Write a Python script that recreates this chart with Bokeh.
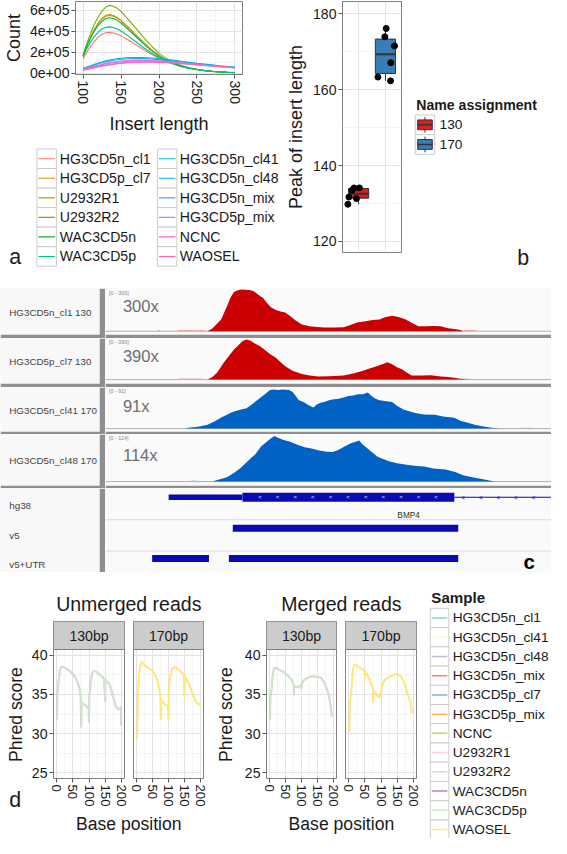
import numpy as np
from math import pi
from bokeh.plotting import figure
from bokeh.layouts import row, column
from bokeh.models import Range1d, FixedTicker, Spacer, Span
from bokeh.core.properties import value
from bokeh.embed import file_html
from bokeh.resources import INLINE

FONT = "Liberation Sans"
SX = 551 / 567
SY = 838 / 854
def X(v): return int(round(v * SX))
def Y(v): return int(round(v * SY))
def fx(v): return v * SX
def fy(v): return v * SY
def FS(px): return f"{px * 0.975:.1f}px"
TXT = "#1a1a1a"

# ======================= DATA =======================
# --- panel a: insert length distributions (counts in thousands)
insert_len = [100, 105, 110, 115, 120, 125, 130, 135, 140, 145, 150, 160, 170, 180, 190,
              200, 210, 220, 230, 240, 250, 260, 270, 280, 290, 300]
cnt_HG3CD5n_cl1 = [135, 200, 258, 305, 345, 372, 386, 390, 385, 373, 357, 315, 270, 224, 181, 143, 110, 84, 63, 47, 35, 26, 19, 14, 10, 8]
cnt_HG3CD5p_cl7 = [160, 260, 345, 420, 480, 525, 553, 560, 552, 532, 505, 438, 365, 292, 226, 170, 127, 94, 69, 50, 36, 26, 19, 13, 9, 6]
cnt_U2932R1 = [165, 262, 345, 418, 475, 518, 545, 552, 545, 526, 500, 433, 360, 288, 223, 168, 125, 92, 68, 49, 35, 25, 18, 13, 9, 6]
cnt_U2932R2 = [175, 285, 385, 470, 540, 595, 632, 648, 640, 620, 590, 510, 425, 340, 262, 190, 140, 102, 74, 53, 38, 27, 19, 13, 9, 6]
cnt_WAC3CD5n = [170, 262, 340, 405, 458, 497, 522, 530, 523, 505, 480, 415, 346, 278, 216, 163, 122, 90, 66, 48, 35, 25, 18, 13, 9, 6]
cnt_WAC3CD5p = [160, 235, 300, 352, 393, 422, 438, 443, 437, 423, 403, 352, 298, 243, 193, 150, 114, 85, 63, 46, 34, 25, 18, 13, 9, 7]
cnt_HG3CD5n_cl41 = [48, 60, 72, 85, 97, 108, 118, 126, 133, 139, 143, 149, 151, 150, 146, 140, 132, 123, 114, 105, 96, 88, 80, 72, 65, 58]
cnt_HG3CD5n_cl48 = [44, 56, 68, 80, 91, 101, 110, 118, 124, 129, 133, 139, 141, 140, 136, 130, 123, 115, 107, 99, 91, 83, 76, 69, 62, 56]
cnt_HG3CD5n_mix = [33, 40, 48, 56, 64, 71, 78, 84, 89, 94, 98, 104, 108, 110, 110, 108, 104, 99, 93, 87, 81, 75, 69, 63, 57, 52]
cnt_HG3CD5p_mix = [38, 46, 55, 64, 73, 81, 88, 95, 101, 106, 110, 116, 119, 120, 119, 116, 111, 105, 98, 91, 84, 77, 70, 64, 58, 52]
cnt_NCNC = [40, 49, 59, 68, 77, 86, 94, 101, 107, 112, 116, 121, 123, 123, 121, 117, 111, 104, 97, 90, 83, 76, 69, 63, 57, 51]
cnt_WAOSEL = [28, 35, 43, 51, 59, 66, 73, 79, 85, 90, 94, 100, 104, 106, 106, 104, 101, 97, 92, 87, 81, 75, 70, 64, 59, 54]
a_samples = ["HG3CD5n_cl1", "HG3CD5p_cl7", "U2932R1", "U2932R2", "WAC3CD5n", "WAC3CD5p",
             "HG3CD5n_cl41", "HG3CD5n_cl48", "HG3CD5n_mix", "HG3CD5p_mix", "NCNC", "WAOSEL"]
a_colors = ["#F8766D", "#DE8C00", "#B79F00", "#7CAE00", "#00BA38", "#00C08B",
            "#00BFC4", "#00B4F0", "#619CFF", "#C77CFF", "#F564E3", "#FF64B0"]
a_counts = [cnt_HG3CD5n_cl1, cnt_HG3CD5p_cl7, cnt_U2932R1, cnt_U2932R2, cnt_WAC3CD5n, cnt_WAC3CD5p,
            cnt_HG3CD5n_cl41, cnt_HG3CD5n_cl48, cnt_HG3CD5n_mix, cnt_HG3CD5p_mix, cnt_NCNC, cnt_WAOSEL]
a_yticks = [0, 200000, 400000, 600000]
a_ytick_labels = ["0e+00", "2e+05", "4e+05", "6e+05"]
a_xticks = [100, 150, 200, 250, 300]

# --- panel b: peak of insert length
b_groups = ["130", "170"]
b_colors = ["#E41A1C", "#377EB8"]
peak_130 = [129.8, 131.7, 133.5, 134.1, 134.1, 131.3]
jitter_130 = [-0.40, -0.36, -0.24, -0.17, 0.03, -0.08]
peak_170 = [176.1, 173.9, 171.5, 167.1, 163.3, 162.3]
jitter_170 = [0.03, -0.02, 0.34, 0.20, -0.28, 0.19]
b_yticks = [120, 140, 160, 180]

# --- panel c: coverage tracks (position in bp from window start, coverage in reads)
window_bp = [0, 18360]
cov1_pos = [4200, 4400, 4600, 4760, 4900, 5000, 5140, 5280, 5440, 5600, 5760, 5920, 6080, 6240, 6400, 6480,
            6640, 6800, 6880, 7040, 7200, 7400, 7600, 7800, 8080, 8400, 8700, 9000, 9400, 9800, 10000, 10360,
            10700, 11000, 11280, 11500, 11800, 12100, 12360, 12600, 12880, 13200, 13500, 13800, 14100, 14360, 14600, 14760]
cov1_val = [0, 20, 55, 85, 140, 180, 240, 280, 295, 300, 298, 296, 290, 270, 248, 240,
            205, 175, 165, 150, 142, 135, 110, 80, 48, 35, 30, 27, 26, 28, 40, 63,
            72, 80, 85, 100, 111, 100, 84, 60, 36, 35, 38, 35, 22, 15, 8, 0]
cov2_pos = [4200, 4400, 4600, 4880, 5080, 5280, 5450, 5650, 5800, 5950, 6150, 6360, 6550, 6800, 7000, 7200,
            7400, 7700, 8080, 8400, 8760, 9200, 9800, 10200, 10600, 10900, 11160, 11400, 11600, 11800, 12000,
            12200, 12400, 12600, 13000, 13400, 13800, 14100, 14360, 14600, 14880]
cov2_val = [0, 25, 70, 168, 230, 289, 330, 375, 390, 380, 350, 324, 290, 245, 215, 170,
            129, 85, 55, 40, 31, 33, 39, 60, 86, 110, 129, 150, 168, 150, 120,
            101, 70, 39, 40, 43, 30, 25, 19, 8, 0]
cov3_pos = [3280, 3400, 3800, 4200, 4500, 4800, 5000, 5200, 5500, 5800, 6000, 6200, 6360, 6560, 6760, 6900,
            7100, 7300, 7560, 7700, 7800, 7960, 8150, 8350, 8560, 8700, 8850, 9000, 9200, 9400, 9560, 9800,
            10000, 10200, 10400, 10600, 10800, 10950, 11100, 11280, 11500, 11800, 12000, 12280, 12500, 12760,
            13100, 13560, 13900, 14360, 14600, 14880, 15200, 15560, 15900, 16200]
cov3_val = [0, 2, 4, 9, 17, 27, 32, 38, 43, 47, 55, 64, 71, 80, 89, 91,
            90, 91, 90, 85, 78, 66, 62, 55, 49, 56, 60, 62, 66, 68, 69, 72,
            76, 77, 80, 80, 84, 76, 70, 66, 64, 62, 53, 44, 40, 36,
            33, 32, 28, 25, 18, 14, 9, 5, 2, 0]
cov4_pos = [4400, 4600, 5000, 5300, 5560, 5800, 6000, 6160, 6400, 6640, 6800, 6960, 7100, 7300, 7600, 7900,
            8200, 8480, 8800, 9100, 9360, 9600, 9840, 10100, 10300, 10440, 10600, 10800, 10960, 11200, 11400,
            11700, 12000, 12400, 12800, 13120, 13500, 14000, 14400, 14720, 15100, 15440, 15800, 16040]
cov4_val = [0, 4, 11, 22, 34, 48, 60, 68, 88, 100, 108, 114, 110, 105, 100, 92,
            86, 83, 78, 75, 74, 80, 88, 96, 100, 103, 92, 82, 74, 62, 57,
            50, 46, 42, 39, 38, 33, 30, 24, 16, 11, 7, 3, 0]
faint1 = [(2160, 2240), (2960, 3760), (3800, 4080), (14760, 15240)]
faint2 = [(3000, 3960), (14600, 15000)]
faint3 = [(17160, 17560)]
faint4 = [(3520, 3760)]
track_names = ["HG3CD5n_cl1 130", "HG3CD5p_cl7 130", "HG3CD5n_cl41 170", "HG3CD5n_cl48 170"]
track_max = [300, 390, 91, 114]
track_depth = ["300x", "390x", "91x", "114x"]
faint_level = [9, 10, 2, 3]
# gene annotation (bp from window start)
bmp4_utr = (2600, 5640)
bmp4_cds = (5640, 14360)
bmp4_intron = (14360, 19000)
v5_blocks = [(5240, 14520)]
v5utr_blocks = [(1920, 4260), (5080, 14520)]
annot_names = ["hg38", "v5", "v5+UTR"]

# --- panel d: per-base Phred quality
unm130_pos = [1, 2, 4, 5, 8, 9, 13, 20, 30, 40, 51, 60, 66, 70, 74, 76, 77, 78, 82, 86, 92, 96, 99, 100,
              101, 103, 105, 108, 110, 113, 116, 119, 125, 132, 140, 147, 150, 151, 152, 156, 162, 168,
              173, 178, 183, 188, 193, 197, 199, 200]
unm130_q = [31.8, 35.0, 35.7, 36.5, 37.3, 38.0, 38.5, 38.5, 38.3, 38.0, 37.6, 37.0, 36.4, 35.8, 34.9, 30.8,
            34.0, 33.9, 33.8, 33.7, 33.5, 33.3, 33.2, 31.4, 35.0, 35.3, 36.6, 37.2, 37.8, 37.9, 38.0, 38.0,
            37.8, 37.6, 37.3, 37.0, 34.1, 36.9, 36.8, 36.6, 36.4, 35.8, 34.9, 34.2, 33.5, 33.2, 33.1, 33.2,
            33.5, 31.0]
unm170_pos = [1, 2, 4, 6, 7, 10, 14, 16, 22, 29, 40, 50, 58, 65, 70, 73, 75, 76, 77, 80, 85, 90, 95, 99,
              100, 101, 102, 104, 107, 110, 114, 120, 126, 134, 141, 148, 150, 151, 153, 159, 165, 172,
              178, 185, 190, 194, 197, 200]
unm170_q = [29.3, 31.0, 35.5, 36.3, 37.6, 38.4, 39.0, 39.2, 38.9, 38.6, 38.3, 38.0, 37.5, 36.8, 35.9, 35.1,
            34.5, 31.8, 34.3, 34.1, 33.9, 33.7, 33.6, 33.7, 31.8, 35.5, 36.0, 36.8, 37.6, 38.1, 38.4, 38.5,
            38.3, 38.1, 37.8, 37.6, 34.7, 37.3, 37.2, 36.8, 36.2, 35.5, 34.9, 34.2, 33.9, 33.7, 33.7, 33.9]
mer130_pos = [1, 2, 4, 6, 10, 12, 14, 20, 27, 37, 47, 57, 67, 72, 75, 76, 77, 80, 84, 88, 92, 96, 99, 100,
              101, 104, 107, 114, 122, 132, 142, 150, 157, 162, 167, 172, 177, 182, 187, 192, 195]
mer130_q = [31.8, 34.5, 35.3, 35.6, 37.6, 38.0, 38.4, 38.4, 38.2, 38.0, 37.8, 37.4, 37.0, 36.6, 36.2, 34.9,
            36.0, 36.0, 35.95, 36.0, 36.0, 36.1, 36.2, 35.7, 36.3, 36.6, 36.8, 37.0, 37.2, 37.3, 37.3, 37.25,
            37.2, 37.1, 36.8, 36.5, 35.95, 35.5, 34.7, 33.4, 32.2]
mer170_pos = [1, 2, 3, 5, 8, 11, 13, 17, 25, 32, 40, 46, 49, 50, 51, 56, 61, 66, 70, 74, 75, 76, 77, 81, 86,
              91, 95, 98, 102, 106, 111, 116, 124, 131, 139, 146, 151, 156, 161, 166, 171, 176, 181, 186,
              191, 194, 195]
mer170_q = [31.0, 30.2, 33.1, 34.5, 35.5, 37.0, 38.2, 38.8, 38.7, 38.4, 38.3, 38.2, 38.1, 37.0, 38.0, 37.6,
            37.2, 36.8, 36.3, 35.9, 35.6, 33.9, 35.5, 35.3, 35.0, 34.7, 34.7, 34.9, 35.8, 36.4, 36.8, 37.0,
            37.2, 37.4, 37.5, 37.6, 37.6, 37.5, 37.3, 37.0, 36.6, 35.9, 35.3, 34.6, 34.1, 33.3, 32.6]
d_samples = ["HG3CD5n_cl1", "HG3CD5n_cl41", "HG3CD5n_cl48", "HG3CD5n_mix", "HG3CD5p_cl7", "HG3CD5p_mix",
             "NCNC", "U2932R1", "U2932R2", "WAC3CD5n", "WAC3CD5p", "WAOSEL"]
d_colors = ["#8DD3C7", "#FFFFB3", "#BEBADA", "#FB8072", "#80B1D3", "#FDB462",
            "#B3DE69", "#FCCDE5", "#D9D9D9", "#BC80BD", "#CCEBC5", "#FFED6F"]
d_facets = ["130bp", "170bp"]
d_xticks = [0, 50, 100, 150, 200]
d_yticks = [25, 30, 35, 40]


# ======================= HELPERS =======================
def blank(w, h, xr, yr, bg="white"):
    p = figure(width=w, height=h, x_range=xr, y_range=yr, x_axis_type=None, y_axis_type=None,
               output_backend="svg", toolbar_location=None, min_border=0, frame_align=False)
    p.outline_line_color = None
    p.background_fill_color = bg
    p.border_fill_color = bg
    return p


def txt(p, x, y, s, size, color=TXT, align="left", baseline="middle", angle=0.0, style="normal"):
    p.text(x=[x], y=[y], text=[s], text_font=value(FONT), text_font_size=value(size),
           text_color=color, text_align=align, text_baseline=baseline, angle=angle,
           text_font_style=style)


def gg_fig(w, h, xr, yr, bl, br, bt, bb, xloc="below", yloc="left"):
    p = figure(width=w, height=h, x_range=xr, y_range=yr, output_backend="svg",
               toolbar_location=None, x_axis_location=xloc, y_axis_location=yloc, min_border=0,
               frame_align=False)
    p.min_border_left = bl
    p.min_border_right = br
    p.min_border_top = bt
    p.min_border_bottom = bb
    p.outline_line_color = "#7f7f7f"
    p.background_fill_color = "white"
    p.border_fill_color = "white"
    return p


def gg_grid(p, xmaj, xmin, ymaj, ymin):
    p.xgrid.ticker = FixedTicker(ticks=xmaj, minor_ticks=xmin)
    p.ygrid.ticker = FixedTicker(ticks=ymaj, minor_ticks=ymin)
    p.grid.grid_line_color = "#e3e3e3"
    p.grid.minor_grid_line_color = "#f4f4f4"


def gg_axis(ax, ticks, fs, labels=None, vertical=False):
    ax.ticker = FixedTicker(ticks=ticks)
    ax.axis_line_color = None
    ax.major_tick_line_color = "#555555"
    ax.major_tick_in = 0
    ax.major_tick_out = 4
    ax.minor_tick_line_color = None
    ax.major_label_text_font = FONT
    ax.major_label_text_font_size = fs
    ax.major_label_text_color = TXT
    ax.major_label_standoff = 2
    if labels is not None:
        ax.major_label_overrides = {t: l for t, l in zip(ticks, labels)}
    if vertical:
        ax.major_label_orientation = "vertical"


def gg_axis_label(ax, text, fs, standoff):
    ax.axis_label = text
    ax.axis_label_text_font = FONT
    ax.axis_label_text_font_size = fs
    ax.axis_label_text_font_style = "normal"
    ax.axis_label_text_color = TXT
    ax.axis_label_standoff = standoff


# ======================= ROW 1 : panels a & b =======================
R1H = Y(285)
WA = X(290)
HA1 = Y(140)
pa = gg_fig(WA, HA1, Range1d(90, 310), Range1d(-1.2e4, 6.85e5),
            bl=X(72.7), br=WA - X(249), bt=Y(1), bb=HA1 - Y(77))
gg_grid(pa, a_xticks, [125, 175, 225, 275], a_yticks, [100000, 300000, 500000])
gg_axis(pa.xaxis[0], a_xticks, FS(14.5), vertical=True)
gg_axis(pa.yaxis[0], a_yticks, FS(14.5), labels=a_ytick_labels)
gg_axis_label(pa.xaxis[0], "Insert length", FS(18.5), 7)
gg_axis_label(pa.yaxis[0], "Count", FS(18.5), 3)
for cnt, col in zip(a_counts, a_colors):
    pa.line(insert_len, [c * 1000 for c in cnt], line_color=col, line_width=1.1)

HA2 = R1H - HA1
pal = blank(WA, HA2, Range1d(0, WA), Range1d(HA2, 0))
y0 = fy(140)
for i, (name, col) in enumerate(zip(a_samples, a_colors)):
    c, r = divmod(i, 6)
    kx = fx(47.5) if c == 0 else fx(171.5)
    tx = fx(61) if c == 0 else fx(184.5)
    ky = fy(161.7 + r * 19.9) - y0
    pal.rect(x=[kx], y=[ky], width=fx(20), height=fy(19.9), fill_color="white",
             line_color="#cccccc", line_width=1)
    pal.segment(x0=[kx - fx(8.5)], y0=[ky], x1=[kx + fx(8.5)], y1=[ky], line_color=col, line_width=1.1)
    txt(pal, tx, ky, name, FS(14.5))
txt(pal, fx(15), fy(262) - y0, "a", FS(22), align="center")

colA = column(pa, pal)

WB1 = X(419) - X(290)
pb = gg_fig(WB1, R1H, Range1d(0.4, 2.6), Range1d(117.1, 183.2),
            bl=X(347) - X(290), br=WB1 - (X(413) - X(290)), bt=Y(1), bb=R1H - Y(257),
            xloc=None)
gg_grid(pb, [1, 2], [], b_yticks, [130, 150, 170])
gg_axis(pb.yaxis[0], b_yticks, FS(14.5))
gg_axis_label(pb.yaxis[0], "Peak of insert length", FS(18.5), 4)
for i, (vals, jit, col) in enumerate(zip([peak_130, peak_170], [jitter_130, jitter_170], b_colors)):
    xc = i + 1
    q1, med, q3 = np.percentile(vals, [25, 50, 75])
    iqr = q3 - q1
    lo = min(v for v in vals if v >= q1 - 1.5 * iqr)
    hi = max(v for v in vals if v <= q3 + 1.5 * iqr)
    pb.segment(x0=[xc, xc], y0=[lo, q3], x1=[xc, xc], y1=[q1, hi], line_color="#333333", line_width=1)
    pb.quad(left=[xc - 0.375], right=[xc + 0.375], bottom=[q1], top=[q3], fill_color=col,
            line_color="#333333", line_width=1)
    pb.segment(x0=[xc - 0.375], y0=[med], x1=[xc + 0.375], y1=[med], line_color="#333333", line_width=2)
    pb.scatter(x=[xc + j for j in jit], y=vals, size=6, fill_color="black", line_color="black")

WB2 = 551 - X(419)
pbl = blank(WB2, R1H, Range1d(0, WB2), Range1d(R1H, 0))
bx0 = fx(419)
txt(pbl, fx(428) - bx0, fy(107), "Name assignment", FS(14.5), style="bold")
for i, (g, col) in enumerate(zip(b_groups, b_colors)):
    ky = fy(126.7 + 20 * i)
    kx = fx(437) - bx0
    pbl.rect(x=[kx], y=[ky], width=fx(20), height=fy(20), fill_color="white", line_color="#cccccc")
    pbl.segment(x0=[kx], y0=[ky - fy(8)], x1=[kx], y1=[ky + fy(8)], line_color="#333333")
    pbl.rect(x=[kx], y=[ky], width=fx(15), height=fy(10), fill_color=col, line_color="#333333")
    pbl.segment(x0=[kx - fx(7.5)], y0=[ky], x1=[kx + fx(7.5)], y1=[ky], line_color="#333333", line_width=1.5)
    txt(pbl, fx(452) - bx0, ky, g, FS(14))
txt(pbl, fx(538) - bx0, fy(262), "b", FS(22), align="center")

row1 = row(colA, row(pb, pbl))

# ======================= ROW 2 : panel c (IGV tracks) =======================
SEP = "#8f8f8f"
WL = X(108)
WD = 551 - WL
track_bounds = [(294, 340, 344, 295, 336.7, 311.7),
                (344, 390, 394, 345, 386.0, 362.0),
                (394, 439, 442, 396, 436.0, 413.0),
                (442, 494, 497, 443.6, 490.0, 463.6)]
cov_pos = [cov1_pos, cov2_pos, cov3_pos, cov4_pos]
cov_val = [cov1_val, cov2_val, cov3_val, cov4_val]
faints = [faint1, faint2, faint3, faint4]
cov_col = ["#CC0000", "#CC0000", "#0062C4", "#0062C4"]
faint_col = ["#F2A3A3", "#F2A3A3", "#9EC1EA", "#9EC1EA"]

c_rows = [Spacer(width=551, height=Y(294) - Y(285))]
for k in range(4):
    F0, F1, E, t, b, ylab = track_bounds[k]
    h = Y(E) - Y(F0)
    sep = Y(E) - Y(F1)
    m = track_max[k]
    lo = -m * (F1 - b) / (b - t)
    hi = m + m * (t - F0) / (b - t)

    lab = blank(WL, h, Range1d(0, 102), Range1d(F1, F0), bg="#f8f8f8")
    lab.border_fill_color = SEP
    lab.min_border_right = WL - X(102)
    lab.min_border_bottom = sep
    txt(lab, 9, (F0 + F1) / 2 + 1, track_names[k], FS(10), color="#444444")

    d = blank(WD, h, Range1d(*window_bp), Range1d(lo, hi), bg="#fafafa")
    d.border_fill_color = SEP
    d.min_border_bottom = sep

    def ref_y(yr, F0=F0, F1=F1, lo=lo, hi=hi):
        return lo + (F1 - yr) / (F1 - F0) * (hi - lo)

    d.line(x=window_bp, y=[0, 0], line_color="#b0b0b0", line_width=1)
    fl = faints[k]
    d.quad(left=[a for a, _ in fl], right=[z for _, z in fl], bottom=[0] * len(fl),
           top=[faint_level[k]] * len(fl), fill_color=faint_col[k], line_color=None)
    d.varea(x=cov_pos[k], y1=0, y2=cov_val[k], fill_color=cov_col[k])
    span = window_bp[1] - window_bp[0]
    txt(d, window_bp[0] + 0.008 * span, ref_y(F0 + 4), f"[0 - {track_max[k]}]", FS(5.5), color="#888888")
    txt(d, window_bp[0] + 0.039 * span, ref_y(ylab), track_depth[k], FS(17), color="#6e6e6e")
    c_rows.append(row(lab, d))

# annotation tracks
AF0, AF1 = 497, 583
ha = Y(AF1) - Y(AF0)
a_lo = 1 - (AF1 - 561) / 32.0
alab = blank(WL, ha, Range1d(0, 102), Range1d(AF1, AF0), bg="#f8f8f8")
alab.border_fill_color = SEP
alab.min_border_right = WL - X(102)
for name, yl in zip(annot_names, [514.5, 545, 574.5]):
    txt(alab, 9, yl, name, FS(10), color="#444444")

ad = blank(WD, ha, Range1d(*window_bp), Range1d(a_lo, 3.0), bg="#fafafa")
GENE = "#0a0ab4"
for loc in [1, 2]:
    ad.add_layout(Span(location=loc, dimension="width", line_color="#dcdcdc", line_width=1))
gy = 2.72
ad.segment(x0=[bmp4_intron[0]], y0=[gy], x1=[bmp4_intron[1]], y1=[gy], line_color=GENE, line_width=1)
ad.quad(left=[bmp4_utr[0]], right=[bmp4_utr[1]], bottom=[gy - 0.085], top=[gy + 0.085],
        fill_color=GENE, line_color=None)
ad.quad(left=[bmp4_cds[0]], right=[bmp4_cds[1]], bottom=[gy - 0.145], top=[gy + 0.145],
        fill_color=GENE, line_color=None)
chev_cds = np.arange(bmp4_cds[0] + 720, bmp4_cds[1] - 100, 725)
ad.text(x=chev_cds, y=[gy] * len(chev_cds), text=["<"] * len(chev_cds), text_font=value(FONT),
        text_font_size=value("6px"), text_color="white", text_align="center", text_baseline="middle")
chev_int = np.arange(bmp4_intron[0] + 360, window_bp[1] - 200, 725)
ad.text(x=chev_int, y=[gy] * len(chev_int), text=["<"] * len(chev_int), text_font=value(FONT),
        text_font_size=value("7px"), text_color=GENE, text_align="center", text_baseline="middle")
txt(ad, (bmp4_cds[0] + bmp4_cds[1]) / 2 + 2480, 2.16, "BMP4", FS(8.5), color="#333333", align="center")
ad.quad(left=[a for a, _ in v5_blocks], right=[z for _, z in v5_blocks], bottom=[1.62] * len(v5_blocks),
        top=[1.84] * len(v5_blocks), fill_color=GENE, line_color=None)
ad.quad(left=[a for a, _ in v5utr_blocks], right=[z for _, z in v5utr_blocks],
        bottom=[0.65] * len(v5utr_blocks), top=[0.87] * len(v5utr_blocks), fill_color=GENE, line_color=None)
txt(ad, window_bp[1] - 0.05 * (window_bp[1] - window_bp[0]), 0.66, "c", FS(21), color="black",
    align="center", style="bold")
c_rows.append(row(alab, ad))
c_rows.append(Spacer(width=551, height=Y(585) - Y(583)))
panel_c = column(*c_rows)

# ======================= ROW 3 : panel d =======================
H_T = Y(632.7) - Y(585)
H_S = Y(661.7) - Y(632.7)
H_P = Y(828) - Y(661.7)
B_P = Y(828) - Y(793.3)
H_X = Y(854) - Y(828)
XR = (-10, 210)
YR = (24.25, 40.75)
Y_STRIP_TOP = YR[1] + H_S * (YR[1] - YR[0]) / (H_P - B_P)
curves = {("Unmerged", "130bp"): (unm130_pos, unm130_q),
          ("Unmerged", "170bp"): (unm170_pos, unm170_q),
          ("Merged", "130bp"): (mer130_pos, mer130_q),
          ("Merged", "170bp"): (mer170_pos, mer170_q)}
top_sample = {"130bp": "WAC3CD5p", "170bp": "WAOSEL"}
under_sample = {"130bp": "WAC3CD5n", "170bp": "HG3CD5p_mix"}
col_of = dict(zip(d_samples, d_colors))


def facet_group(kind, title, g0, g1, lab_r, f1_fl, f1_fr, f2_fl, f2_fr, lab_x):
    mid = (f1_fr + f2_fl) / 2
    gw = X(g1) - X(g0)
    wlab = X(lab_r) - X(g0)
    w1 = X(mid) - X(lab_r)
    w2 = X(g1) - X(mid)
    bl1 = X(f1_fl) - X(lab_r)
    br1 = X(mid) - X(f1_fr)
    bl2 = X(f2_fl) - X(mid)
    br2 = X(g1) - X(f2_fr)
    centre = (fx(f1_fl) + fx(f2_fr)) / 2 - fx(g0)

    tf = blank(gw, H_T, Range1d(0, gw), Range1d(H_T, 0))
    txt(tf, centre, fy(615) - fy(585), title, FS(20), align="center")

    hl = H_S + H_P
    lf = blank(wlab, hl, Range1d(0, wlab), Range1d(hl, 0))
    txt(lf, lab_x, fy(727.5) - fy(632.7), "Phred score", FS(18), align="center", angle=pi / 2)
    if g0 == 0:
        txt(lf, fx(15), hl - 1, "d", FS(22), align="center", baseline="bottom")

    figs = []
    for j, (facet, w, bl, br) in enumerate(zip(d_facets, [w1, w2], [bl1, bl2], [br1, br2])):
        pp = gg_fig(w, hl, Range1d(*XR), Range1d(YR[0], Y_STRIP_TOP), bl=bl, br=br, bt=0, bb=B_P,
                    yloc="left" if j == 0 else None)
        gg_grid(pp, d_xticks, [25, 75, 125, 175], d_yticks, [27.5, 32.5, 37.5])
        gg_axis(pp.xaxis[0], d_xticks, FS(13.5), vertical=True)
        if j == 0:
            gg_axis(pp.yaxis[0], d_yticks, FS(14.5))
        xs, qs = curves[(kind, facet)]
        pp.line(xs, qs, line_color=col_of[under_sample[facet]], line_width=2.0, line_alpha=0.5)
        pp.line(xs, qs, line_color=col_of[top_sample[facet]], line_width=1.4)
        # facet strip (ggplot style) above the panel
        pp.quad(left=[XR[0]], right=[XR[1]], bottom=[YR[1]], top=[Y_STRIP_TOP],
                fill_color="#cccccc", line_color=None)
        pp.segment(x0=[XR[0]], y0=[YR[1]], x1=[XR[1]], y1=[YR[1]], line_color="#7f7f7f", line_width=1)
        txt(pp, (XR[0] + XR[1]) / 2, (YR[1] + Y_STRIP_TOP) / 2 - 0.1, facet, FS(14.5), align="center")
        figs.append(pp)

    xf = blank(gw, H_X, Range1d(0, gw), Range1d(H_X, 0))
    txt(xf, centre, fy(840) - fy(828), "Base position", FS(18), align="center")
    return column(tf, row(lf, *figs), xf)


left_g = facet_group("Unmerged", "Unmerged reads", 0, 218, 28, 55, 127.5, 136.7, 209, 15.5)
right_g = facet_group("Merged", "Merged reads", 218, 437, 244, 273.3, 346, 355, 428, 13.5)

WLD = 551 - X(437)
HLD = 838 - Y(585)
ld = blank(WLD, HLD, Range1d(0, WLD), Range1d(HLD, 0))
lx0, ly0 = fx(437), fy(585)
txt(ld, fx(443) - lx0, fy(608) - ly0, "Sample", FS(15.5), style="bold")
for i, (name, col) in enumerate(zip(d_samples, d_colors)):
    ky = fy(629.3 + 19.6 * i) - ly0
    kx = fx(451.5) - lx0
    ld.rect(x=[kx], y=[ky], width=fx(19), height=fy(19.6), fill_color="white", line_color="#cccccc")
    ld.segment(x0=[kx - fx(8)], y0=[ky], x1=[kx + fx(8)], y1=[ky], line_color=col, line_width=1.5)
    txt(ld, fx(465) - lx0, ky, name, FS(14))

row3 = row(left_g, right_g, ld)

layout = column(row1, panel_c, row3)
open("out.html", "w").write(file_html(layout, INLINE, title="Figure"))
